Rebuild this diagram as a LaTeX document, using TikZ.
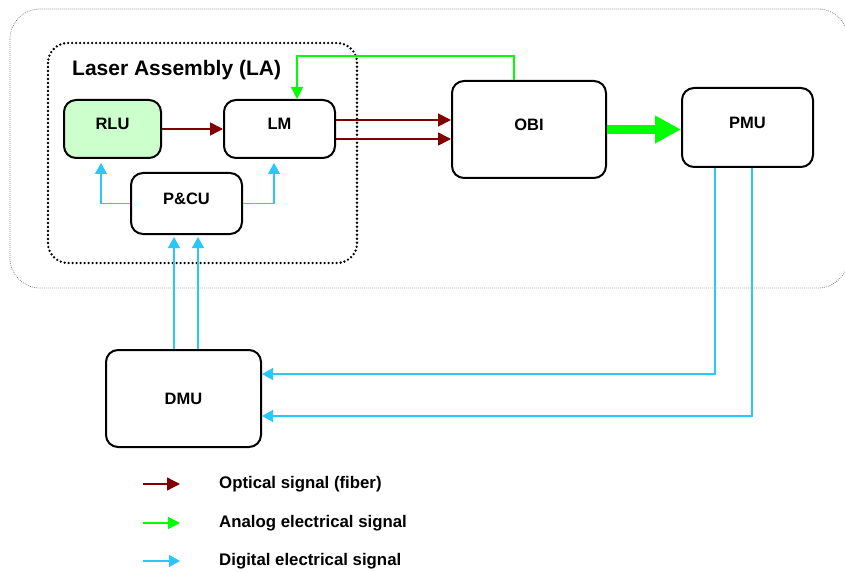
\documentclass[tikz,border=0pt]{standalone}
\usepackage{fontspec}
\setmainfont{Liberation Sans}
\usepackage{tikz}
\usetikzlibrary{positioning, arrows.meta}
\definecolor{fiberred}{RGB}{128,0,0}
\definecolor{analoggreen}{RGB}{0,255,0}
\definecolor{digitalblue}{RGB}{40,200,250}
\definecolor{rlugreen}{RGB}{204,255,204}
\tikzset{
x=1pt, y=-1pt, % one unit is one pixel of the drawing
unit/.style={draw, thick, line width=2pt, rounded corners=12pt, fill=white, font=\bfseries\fontsize{16.5}{20}\selectfont, inner sep=0pt}, % the boxes
raised/.style={text depth=10pt}, % lifts the label a little above the middle
optical/.style={->, >={Triangle[length=13pt, width=13pt]}, color=fiberred, line width=1.6pt}, % fiber
analog/.style={->, >={Triangle[length=12pt, width=12pt]}, color=analoggreen, line width=1.4pt}, % analog electrical
digital/.style={->, >={Triangle[length=11pt, width=12pt]}, color=digitalblue, line width=1.4pt}, % digital electrical
legendtext/.style={anchor=west, font=\bfseries\fontsize{16.8}{20}\selectfont, inner sep=0pt},
}

\begin{document}
\begin{tikzpicture}
    \useasboundingbox (0,0) rectangle (845,572);
    % frames
    \draw[gray, line width=0.8pt, dash pattern=on 0.8pt off 1.2pt, rounded corners=30pt] (10,9) rectangle (848,288);
    \draw[black, line width=2.6pt, line cap=round, dash pattern=on 0pt off 4pt, rounded corners=20pt] (48,43) rectangle (357,263);
    \node[anchor=west, font=\bfseries\fontsize{21}{25}\selectfont, inner sep=0pt] (latitle) at (72,70) {Laser Assembly (LA)};

    % units
    \node[unit, raised, fill=rlugreen, minimum width=97pt, minimum height=58pt] (rlu) at (112.5,129) {RLU};
    \node[unit, raised, minimum width=111pt, minimum height=58pt, right=61pt of rlu] (lm) {LM};
    \node[unit, raised, minimum width=111pt, minimum height=61pt] (pcu) at (186.5,203.5) {P\&CU};
    \node[unit, raised, minimum width=154pt, minimum height=97pt] (obi) at (529,129.5) {OBI};
    \node[unit, raised, minimum width=131pt, minimum height=79pt] (pmu) at (747.5,127.5) {PMU};
    \node[unit, minimum width=155pt, minimum height=97pt] (dmu) at (183.5,398.5) {DMU};

    % optical links
    \draw[optical] (rlu) -- (lm);
    \draw[optical] ([yshift=9pt]lm.east) -- ([yshift=9pt]lm.east -| obi.west);
    \draw[optical] ([yshift=-10pt]lm.east) -- ([yshift=-10pt]lm.east -| obi.west);

    % analog links
    \draw[analog, line width=9pt, >={Triangle[length=26pt, width=26pt]}] (obi.east) -- (obi.east -| pmu.west);
    \draw[analog] ([xshift=-15pt]obi.north) -- ++(0,-24) -| ([xshift=17.5pt]lm.north);

    % digital links
    \draw[digital, shorten >=4pt] (pcu.west) -| ([xshift=-11.5pt]rlu.south);
    \draw[digital, shorten >=4pt] (pcu.east) -| ([xshift=-5.5pt]lm.south);
    \draw[digital, shorten >=2pt] ([xshift=-9.5pt]dmu.north) -- ([xshift=-9.5pt]dmu.north |- pcu.south);
    \draw[digital, shorten >=2pt] ([xshift=14.5pt]dmu.north) -- ([xshift=14.5pt]dmu.north |- pcu.south);
    \draw[digital] ([xshift=-32.5pt]pmu.south) |- ([yshift=24.5pt]dmu.east);
    \draw[digital] ([xshift=4.5pt]pmu.south) |- ([yshift=-17.5pt]dmu.east);

    % legend
    \node[legendtext] (lgoptical) at (219,484) {Optical signal (fiber)};
    \node[legendtext] (lganalog) at (219,523) {Analog electrical signal};
    \node[legendtext] (lgdigital) at (219,561) {Digital electrical signal};
    \coordinate (lgoptical0) at (143,484);
    \coordinate (lganalog0) at (143,523);
    \coordinate (lgdigital0) at (143,561);
    \draw[optical, line width=1.4pt] (lgoptical0) -- ([xshift=-39pt]lgoptical.west);
    \draw[analog] (lganalog0) -- ([xshift=-39pt]lganalog.west);
    \draw[digital] (lgdigital0) -- ([xshift=-39pt]lgdigital.west);
\end{tikzpicture}
\end{document}
